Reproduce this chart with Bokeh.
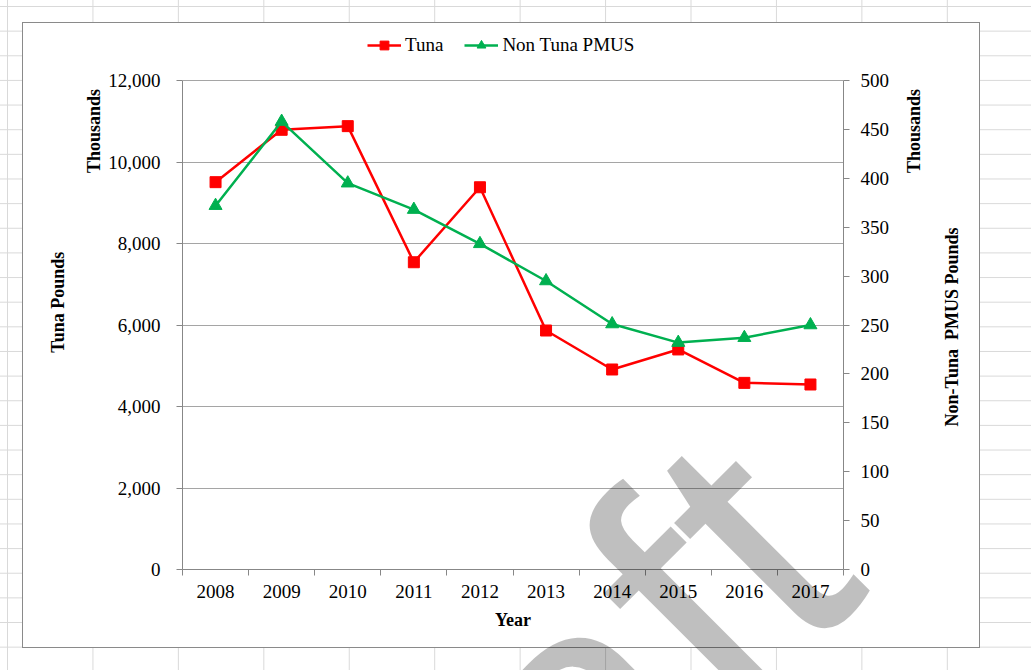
from bokeh.plotting import figure
from bokeh.layouts import column
from bokeh.models import (Range1d, LinearAxis, FixedTicker, SingleIntervalTicker,
                          NumeralTickFormatter, Legend, LegendItem, Grid, Div)
from bokeh.embed import file_html
from bokeh.resources import INLINE

# ---------------- data ----------------
years = ["2008", "2009", "2010", "2011", "2012", "2013", "2014", "2015", "2016", "2017"]
tuna_thousand_lb = [9505, 10790, 10880, 7540, 9380, 5865, 4908, 5400, 4580, 4540]
non_tuna_thousand_lb = [372, 458, 395, 368, 333, 295, 251, 232, 237, 250]
series_names = ["Tuna", "Non Tuna PMUS"]
left_title = "Tuna  Pounds"
right_title = "Non-Tuna  PMUS Pounds"
unit_text = "Thousands"
x_title = "Year"
watermark = "Draft"
left_max, left_step = 12000, 2000
right_max, right_step = 500, 50

SERIF = "Liberation Serif"
W, H = 1031, 670

# layout (page pixels): axes run from y=569 (0) up to y=80 (max); the frame reaches up to y=30
# so that the legend above the axes can live inside it.
AX_TOP, AX_BOTTOM, FRAME_TOP = 80, 569, 30
extend = (AX_BOTTOM - FRAME_TOP) / (AX_BOTTOM - AX_TOP)

n = len(years)
centers = [i + 0.5 for i in range(n)]   # each year sits in the middle of its slot

p = figure(width=W, height=H, x_range=Range1d(0, n), y_range=Range1d(0, left_max * extend),
           output_backend="svg", toolbar_location=None,
           x_axis_location=None, y_axis_location=None,
           min_border_left=182, min_border_right=188, min_border_top=FRAME_TOP,
           min_border_bottom=H - AX_BOTTOM,
           background_fill_color=None, border_fill_color=None, outline_line_color=None,
           styles={
               "background-color": "#ffffff",
               "background-image": ("linear-gradient(#ffffff,#ffffff), linear-gradient(#8a8a8a,#8a8a8a), "
                                    "linear-gradient(to right, #d9d9d9 1px, transparent 1px), "
                                    "linear-gradient(to bottom, #d9d9d9 1px, transparent 1px)"),
               "background-size": "956px 624px, 958px 626px, 85.45px 100%, 100% 24.65px",
               "background-position": "23px 23px, 22px 22px, 7px 0px, 0px 6px",
               "background-repeat": "no-repeat, no-repeat, repeat, repeat",
           })
for g in p.grid:
    g.visible = False

p.extra_y_ranges = {"nt": Range1d(0, right_max * extend)}

AX = "#878787"

yl = LinearAxis(ticker=SingleIntervalTicker(interval=left_step, num_minor_ticks=0),
                formatter=NumeralTickFormatter(format="0,0"),
                axis_label=left_title, bounds=(0, left_max))
yr = LinearAxis(y_range_name="nt", ticker=SingleIntervalTicker(interval=right_step, num_minor_ticks=0),
                formatter=NumeralTickFormatter(format="0,0"), bounds=(0, right_max))
xa = LinearAxis(ticker=FixedTicker(ticks=centers, minor_ticks=list(range(n + 1))),
                major_label_overrides={c: y for c, y in zip(centers, years)},
                axis_label=x_title)

for ax in (yl, yr, xa):
    ax.axis_line_color = AX
    ax.major_tick_line_color = AX
    ax.minor_tick_line_color = AX
    ax.major_tick_in = 0
    ax.minor_tick_in = 0
    ax.major_tick_out = 6
    ax.minor_tick_out = 0
    ax.major_label_text_font = SERIF
    ax.major_label_text_font_size = "19px"
    ax.major_label_text_color = "#000000"
    ax.axis_label_text_font = SERIF
    ax.axis_label_text_font_size = "18px"
    ax.axis_label_text_font_style = "bold"
    ax.axis_label_text_color = "#000000"

yl.major_label_standoff = 16
yl.axis_label_standoff = 37
yr.major_label_standoff = 11
xa.major_tick_out = 0
xa.minor_tick_out = 6
xa.major_label_standoff = 9
xa.axis_label_standoff = 9

p.add_layout(yl, "left")
p.add_layout(yr, "right")
p.add_layout(xa, "below")
p.add_layout(Grid(dimension=1, ticker=yl.ticker, bounds=(0, left_max),
                  grid_line_color="#a5a5a5", grid_line_width=1))

RED, GREEN = "#ff0000", "#00b050"
r1 = p.line(centers, tuna_thousand_lb, color=RED, line_width=2.5)
s1 = p.scatter(centers, tuna_thousand_lb, marker="square", size=11, color=RED)
r2 = p.line(centers, non_tuna_thousand_lb, color=GREEN, line_width=2.5, y_range_name="nt")
s2 = p.scatter(centers, non_tuna_thousand_lb, marker="triangle", size=13, color=GREEN, y_range_name="nt")

legend = Legend(items=[LegendItem(label=series_names[0], renderers=[r1, s1]),
                       LegendItem(label=series_names[1], renderers=[r2, s2])],
                location=(185, AX_BOTTOM - 56), orientation="horizontal",
                glyph_width=34, glyph_height=22, label_standoff=4, spacing=21,
                padding=0, margin=0, border_line_color=None, background_fill_alpha=0,
                label_text_font=SERIF, label_text_font_size="19px", label_text_color="#000000")
p.add_layout(legend)

# ---- HTML overlay (page pixels) for the texts that sit outside the plot frame ----
VT = ("position:absolute;left:{x}px;top:{y}px;transform-origin:0 0;"
      "transform:rotate(-90deg) translate(-50%,-50%);white-space:nowrap;"
      "font-family:'Liberation Serif';font-weight:bold;font-size:18px;line-height:1.15;color:#000;")
html = (
    f'<div style="position:relative;left:-3px;top:-3px;width:{W}px;height:{H}px;">'
    f'<span style="position:absolute;left:871px;top:588px;transform-origin:0 0;'
    f'transform:rotate(-45deg) translate(-100%,-0.8465em);white-space:nowrap;'
    f"font-family:'Liberation Sans';font-size:355px;line-height:1;color:rgba(0,0,0,0.25);\">{watermark}</span>"
    f'<span style="{VT.format(x=92, y=129)}">{unit_text}</span>'
    f'<span style="{VT.format(x=912, y=129)}">{unit_text}</span>'
    f'<span style="{VT.format(x=950, y=325)}">{right_title.replace("  ", "&nbsp; ")}</span>'
    '</div>'
)
ov = Div(text=html, width=W, height=H,
         styles={"position": "absolute", "top": "0px", "left": "0px", "pointer-events": "none"})

open("out.html", "w").write(file_html(column(p, ov), INLINE))
